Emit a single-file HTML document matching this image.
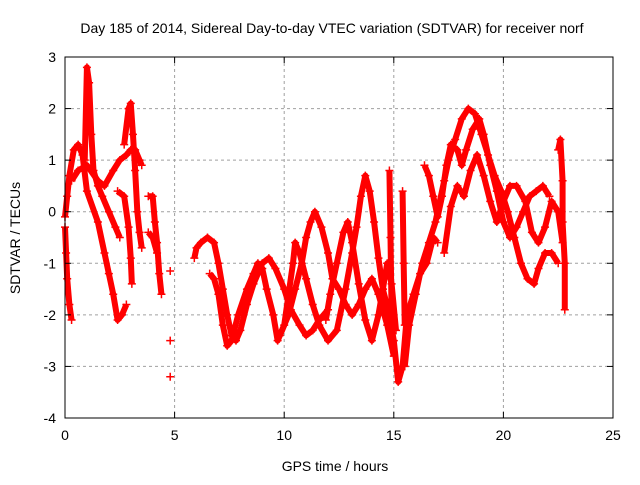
<!DOCTYPE html>
<html><head><meta charset="utf-8"><style>
body{margin:0;background:#fff;}
svg text{font-family:"Liberation Sans",sans-serif;font-size:14px;fill:#000;}
</style></head><body>
<svg id="chart" width="640" height="480" viewBox="0 0 640 480" xmlns="http://www.w3.org/2000/svg">
<text x="332" y="33" text-anchor="middle">Day 185 of 2014, Sidereal Day-to-day VTEC variation (SDTVAR) for receiver norf</text>
<g id="grid"></g>
<g id="marks"></g>
<rect x="65" y="57" width="548" height="361" fill="none" stroke="#000" stroke-width="1"/>
<g id="ticks"></g>
<text x="335" y="471" text-anchor="middle">GPS time / hours</text>
<text x="20" y="238" text-anchor="middle" transform="rotate(-90 20 238)">SDTVAR / TECUs</text>
</svg>
<script>
const xTicks=[0,5,10,15,20,25];
const yTicks=[-4,-3,-2,-1,0,1,2,3];
const track1=[[0,-0.1],[0.1,0.3],[0.2,0.7],[0.4,1.2],[0.6,1.3],[0.8,1.1],[1.0,0.4],[1.5,-0.2],[1.8,-0.8],[2.0,-1.2],[2.2,-1.6],[2.4,-2.1],[2.6,-2.0],[2.8,-1.8]];
const track2=[[0,-0.3],[0.05,-0.8],[0.1,-1.3],[0.2,-1.8],[0.3,-2.1]];
const track3=[[0.9,1.0],[1.0,2.8],[1.1,2.5],[1.2,1.5],[1.3,0.8],[1.5,0.5],[1.7,0.3],[2.0,0.0],[2.3,-0.3],[2.5,-0.5]];
const track4=[[0.3,0.6],[0.6,0.8],[1.0,0.9],[1.5,0.6],[1.8,0.5],[2.2,0.8],[2.5,1.0],[2.8,1.1],[3.0,1.2],[3.2,1.2],[3.4,1.0],[3.5,0.9]];
const track5=[[2.7,1.3],[2.9,2.0],[3.0,2.1],[3.1,1.5],[3.2,0.8],[3.3,0.0],[3.4,-0.4],[3.5,-0.7]];
const track6=[[2.4,0.4],[2.7,0.3],[2.9,-0.3],[3.0,-0.9],[3.05,-1.4]];
const track7=[[3.8,0.3],[4.0,0.3],[4.1,-0.2],[4.2,-0.6],[4.3,-1.2],[4.4,-1.6]];
const track8=[[3.8,-0.4],[4.0,-0.5],[4.2,-0.8]];
const isolated=[[4.8,-1.15],[4.8,-2.5],[4.8,-3.2]];
const track9=[[5.9,-0.9],[6.0,-0.7],[6.2,-0.6],[6.5,-0.5],[6.8,-0.6],[7.0,-1.0],[7.2,-1.5],[7.4,-2.0],[7.6,-2.4],[7.8,-2.5],[8.0,-2.3],[8.3,-1.8],[8.6,-1.4],[9.0,-1.0],[9.3,-0.9],[9.6,-1.1],[10.0,-1.5],[10.3,-1.9],[10.7,-2.2],[11.0,-2.4],[11.3,-2.3],[11.6,-2.1],[12.0,-1.9]];
const track10=[[6.6,-1.2],[6.8,-1.3],[7.0,-1.6],[7.2,-2.2],[7.4,-2.6],[7.6,-2.5],[7.9,-2.0],[8.3,-1.5],[8.6,-1.2],[8.8,-1.0],[9.0,-1.1],[9.2,-1.5],[9.5,-2.0],[9.7,-2.5],[10.0,-2.2],[10.2,-1.6],[10.4,-1.0],[10.5,-0.6],[10.7,-0.8],[11.0,-1.3],[11.3,-1.8],[11.6,-2.2],[12.0,-2.5],[12.4,-2.3],[12.8,-1.5],[13.1,-0.8],[13.3,-0.3],[13.5,0.3],[13.7,0.7],[13.9,0.4],[14.1,-0.2],[14.3,-0.9],[14.5,-1.5],[14.8,-2.0],[15.0,-2.5],[15.2,-3.3],[15.4,-3.0],[15.6,-2.0],[15.9,-1.6],[16.2,-1.2],[16.5,-1.0],[16.8,-0.5],[17.0,-0.6]];
const track11=[[9.8,-2.4],[10.2,-2.0],[10.5,-1.5],[10.8,-1.0],[11.0,-0.5],[11.2,-0.2],[11.4,0.0],[11.7,-0.3],[12.0,-0.8],[12.2,-1.3],[12.5,-1.5],[12.8,-1.8],[13.1,-2.0],[13.4,-1.8],[13.7,-1.5],[14.0,-1.3],[14.3,-1.6],[14.7,-2.2],[15.0,-2.8]];
const track12=[[11.9,-2.1],[12.1,-1.6],[12.4,-1.0],[12.7,-0.4],[12.9,-0.2],[13.1,-0.6],[13.4,-1.4],[13.7,-2.1],[14.0,-2.5],[14.3,-2.0],[14.5,-1.5],[14.7,-1.0],[14.9,-1.4],[15.1,-2.3]];
const spike1=[[14.8,0.8],[14.85,-0.5],[14.9,-2.0]];
const spike2=[[15.4,0.4],[15.45,-1.0],[15.5,-2.2]];
const track13=[[15.5,-3.0],[15.7,-2.2],[16.0,-1.6],[16.3,-1.0],[16.6,-0.6],[16.9,-0.2],[17.1,0.2],[17.3,0.6],[17.5,1.0],[17.8,1.4],[18.1,1.8],[18.4,2.0],[18.7,1.9],[19.0,1.5],[19.3,1.1],[19.6,0.7],[19.9,0.4],[20.2,0.0],[20.5,-0.5],[20.8,-1.0],[21.1,-1.3],[21.4,-1.4],[21.6,-1.1],[21.9,-0.8],[22.2,-0.8],[22.5,-1.0]];
const track14=[[16.4,0.9],[16.6,0.7],[16.8,0.3],[17.0,-0.1],[17.2,0.3],[17.4,0.9],[17.6,1.3],[17.9,1.2],[18.1,0.9],[18.3,1.2],[18.6,1.6],[18.9,1.8],[19.1,1.5],[19.4,0.9],[19.7,0.4],[20.0,-0.2],[20.3,-0.5],[20.6,-0.3],[20.9,0.0],[21.2,0.3],[21.5,0.4],[21.8,0.5],[22.1,0.3]];
const track15=[[17.3,-0.8],[17.6,0.1],[17.9,0.5],[18.2,0.3],[18.5,0.8],[18.8,1.1],[19.1,0.7],[19.4,0.2],[19.7,-0.2],[20.0,0.2],[20.3,0.5],[20.6,0.5],[21.0,0.2],[21.3,-0.4],[21.6,-0.6],[21.9,-0.3],[22.2,0.2],[22.5,0.0],[22.7,-0.6]];
const spike3=[[22.5,1.2],[22.6,1.4],[22.7,0.6],[22.7,-0.2],[22.8,-1.0],[22.8,-1.9]];
const tracks=[track1,track2,track3,track4,track5,track6,track7,track8,track9,track10,track11,track12,spike1,spike2,track13,track14,track15,spike3];

const X0=65,X1=613,Y0=418,Y1=57;
const sx=v=>X0+(v-0)/(25-0)*(X1-X0);
const sy=v=>Y0-(v-(-4))/(3-(-4))*(Y0-Y1);
const NS='http://www.w3.org/2000/svg';
const grid=document.getElementById('grid'),ticks=document.getElementById('ticks'),marks=document.getElementById('marks');
function mk(tag,attrs,parent){const e=document.createElementNS(NS,tag);for(const k in attrs)e.setAttribute(k,attrs[k]);parent.appendChild(e);return e;}
xTicks.forEach(t=>{
  const x=sx(t);
  if(t>0&&t<25){const g=mk('line',{x1:x,x2:x,y1:Y1,y2:Y0,stroke:'#a0a0a0','stroke-dasharray':'3,3'},grid);
  
  }
  mk('line',{x1:x,x2:x,y1:Y0,y2:Y0-6,stroke:'#000'},ticks);
  mk('line',{x1:x,x2:x,y1:Y1,y2:Y1+6,stroke:'#000'},ticks);
  const l=mk('text',{x:x,y:Y0+22,'text-anchor':'middle'},ticks);l.textContent=t;
  
  
});
yTicks.forEach(t=>{
  const y=sy(t);
  if(t>-4&&t<3){const g=mk('line',{x1:X0,x2:X1,y1:y,y2:y,stroke:'#a0a0a0','stroke-dasharray':'3,3'},grid);
  
  }
  mk('line',{x1:X0,x2:X0+6,y1:y,y2:y,stroke:'#000'},ticks);
  mk('line',{x1:X1,x2:X1-6,y1:y,y2:y,stroke:'#000'},ticks);
  const l=mk('text',{x:X0-9,y:y+5,'text-anchor':'end'},ticks);l.textContent=t;
  
  
});
function plus(d){
  const x=sx(d[0]),y=sy(d[1]);
  const m=mk('path',{d:`M${x-4},${y}H${x+4}M${x},${y-4}V${y+4}`,stroke:'#f00','stroke-width':1.5},marks);
  
  
}
tracks.forEach((tr,i)=>{
  const p=mk('polyline',{points:tr.map(d=>sx(d[0])+','+sy(d[1])).join(' '),fill:'none',stroke:'#f00','stroke-width':6,'stroke-linejoin':'round'},marks);
  
  
  tr.forEach(plus);
});
isolated.forEach(plus);
</script>
</body></html>
